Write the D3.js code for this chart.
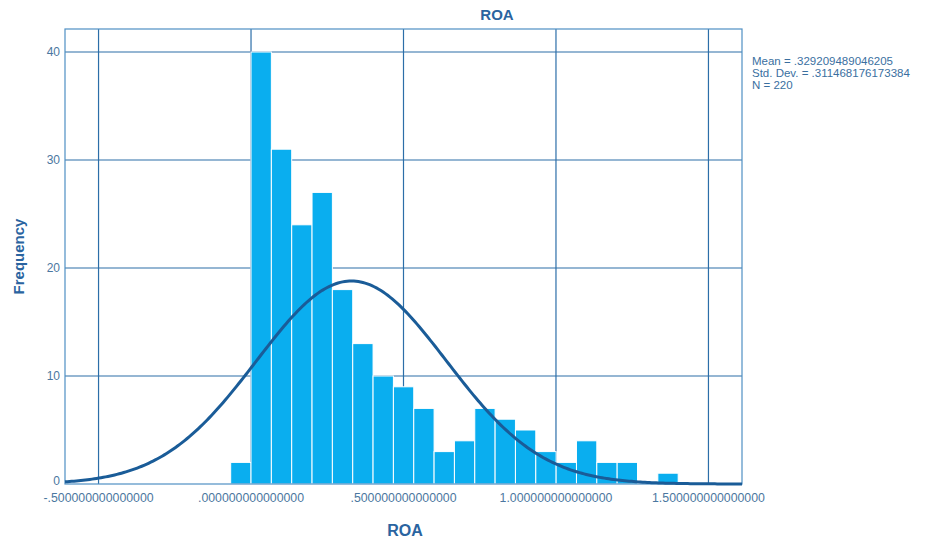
<!DOCTYPE html>
<html>
<head>
<meta charset="utf-8">
<script src="https://cdn.jsdelivr.net/npm/d3@7"></script>
<style>
  body { margin: 0; background: #fff; }
  text { font-family: "Liberation Sans", Arial, sans-serif; }
</style>
</head>
<body>
<div id="chart"></div>
<script>
// histogram bins: start at -1/15, width 1/15
const binStart = -0.0667;
const binWidth = 0.0667;
const counts = [2, 40, 31, 24, 27, 18, 13, 10, 9, 7, 3, 4, 7, 6, 5, 3, 2, 4, 2, 2, 0, 1];

const xTicks = [-0.5, 0, 0.5, 1.0, 1.5];
const xTickLabels = ['-.500000000000000', '.000000000000000', '.500000000000000',
  '1.000000000000000', '1.500000000000000'];
const yTicks = [0, 10, 20, 30, 40];

const stats = {mean: 0.329209489046205, sd: 0.311468176173384, n: 220};
const statLines = ['Mean = .329209489046205', 'Std. Dev. = .311468176173384', 'N = 220'];

const width = 927, height = 541;
const margin = {top: 29, right: 185, bottom: 57, left: 65};

const svg = d3.select('#chart').append('svg')
    .attr('width', width)
    .attr('height', height);

const x = d3.scaleLinear()
    .domain([-0.61, 1.61])
    .range([margin.left, width - margin.right]);

const y = d3.scaleLinear()
    .domain([0, 42.13])
    .range([height - margin.bottom, margin.top]);

const gridColor = '#2c6ea8';
const textColor = '#2a64a0';

// grid
svg.append('g')
  .selectAll('line')
  .data(yTicks.slice(1))
  .join('line')
    .attr('x1', x.range()[0]).attr('x2', x.range()[1])
    .attr('y1', d => y(d)).attr('y2', d => y(d))
    .attr('stroke', gridColor).attr('stroke-width', 1.2);

svg.append('g')
  .selectAll('line')
  .data(xTicks)
  .join('line')
    .attr('x1', d => x(d)).attr('x2', d => x(d))
    .attr('y1', y.range()[0]).attr('y2', y.range()[1])
    .attr('stroke', gridColor).attr('stroke-width', 1.2);

// bars
svg.append('g')
  .selectAll('rect')
  .data(counts.map((c, i) => ({lo: binStart + i * binWidth, hi: binStart + (i + 1) * binWidth, c})))
  .join('rect')
    .attr('x', d => x(d.lo))
    .attr('y', d => y(d.c))
    .attr('width', d => x(d.hi) - x(d.lo))
    .attr('height', d => y(0) - y(d.c))
    .attr('fill', '#0aaeef')
    .attr('stroke', '#ffffff')
    .attr('stroke-width', 1);

// frame
svg.append('rect')
    .attr('x', x.range()[0])
    .attr('y', y.range()[1])
    .attr('width', x.range()[1] - x.range()[0])
    .attr('height', y.range()[0] - y.range()[1])
    .attr('fill', 'none')
    .attr('stroke', '#4f8fc4')
    .attr('stroke-width', 1.2);

// normal curve
const scale = stats.n * binWidth / (stats.sd * Math.sqrt(2 * Math.PI));
const curvePts = d3.range(0, 301).map(i => {
  const xv = x.domain()[0] + (x.domain()[1] - x.domain()[0]) * i / 300;
  const z = (xv - stats.mean) / stats.sd;
  return [xv, scale * Math.exp(-0.5 * z * z)];
});

svg.append('path')
    .datum(curvePts)
    .attr('fill', 'none')
    .attr('stroke', '#1a5c98')
    .attr('stroke-width', 3)
    .attr('d', d3.line().x(d => x(d[0])).y(d => y(d[1])));

// axes labels
svg.append('g')
  .selectAll('text')
  .data(yTicks)
  .join('text')
    .attr('x', margin.left - 5)
    .attr('y', d => y(d) + (d === 0 ? 1 : 4))
    .attr('text-anchor', 'end')
    .attr('font-size', 12)
    .attr('fill', '#4b77a0')
    .text(d => d);

svg.append('g')
  .selectAll('text')
  .data(xTicks)
  .join('text')
    .attr('x', d => x(d))
    .attr('y', y(0) + 18)
    .attr('text-anchor', 'middle')
    .attr('font-size', 12.3)
    .attr('fill', '#4b77a0')
    .text((d, i) => xTickLabels[i]);

svg.append('text')
    .attr('x', 497)
    .attr('y', 20)
    .attr('text-anchor', 'middle')
    .attr('font-size', 15)
    .attr('font-weight', 'bold')
    .attr('fill', textColor)
    .text('ROA');

svg.append('text')
    .attr('x', 405)
    .attr('y', 536)
    .attr('text-anchor', 'middle')
    .attr('font-size', 16)
    .attr('font-weight', 'bold')
    .attr('fill', textColor)
    .text('ROA');

svg.append('text')
    .attr('transform', `translate(24,${(margin.top + height - margin.bottom) / 2}) rotate(-90)`)
    .attr('text-anchor', 'middle')
    .attr('font-size', 15)
    .attr('font-weight', 'bold')
    .attr('fill', textColor)
    .text('Frequency');

svg.append('g')
  .selectAll('text')
  .data(statLines)
  .join('text')
    .attr('x', 752)
    .attr('y', (d, i) => 65 + i * 12)
    .attr('font-size', 11.5)
    .attr('fill', '#3a6f9f')
    .text(d => d);
</script>
</body>
</html>
